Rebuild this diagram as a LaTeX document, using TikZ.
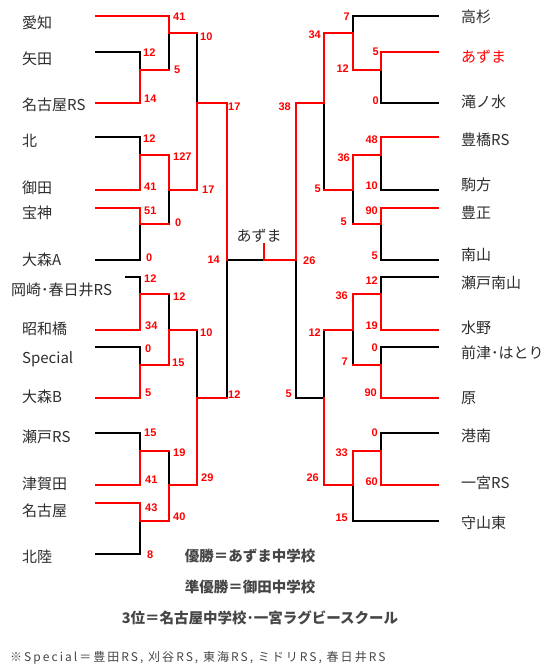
\documentclass[tikz,border=0pt]{standalone}
\usepackage{fontspec}
\setmainfont{Noto Sans CJK JP}
\newfontfamily\scorefont{Liberation Sans}
\definecolor{BracketRed} {RGB}{255,  0,  0}
\definecolor{LabelGray}  {RGB}{ 45, 45, 45}
\definecolor{NoteGray}   {RGB}{ 70, 70, 70}
\tikzset{
  winline/.style={draw=BracketRed, line width=1.8pt, line cap=rect},
  loseline/.style={draw=black, line width=1.8pt, line cap=rect},
  team/.style={text=LabelGray, font=\fontsize{15}{15}\selectfont,
    inner sep=0pt, anchor=west},
  score/.style={text=BracketRed,
    font=\scorefont\bfseries\fontsize{11}{11}\selectfont, inner sep=0pt},
  result/.style={text=NoteGray, font=\bfseries\fontsize{14.5}{14.5}\selectfont,
    inner sep=0pt},
}

\begin{document}
\begin{tikzpicture}[x=1pt,y=-1pt]
      \useasboundingbox (0,0) rectangle (551,670);
      % Left half -- losers first, winners on top
      \draw[loseline] (96,52) -- (140,52) -- (140,70);
      \draw[loseline] (169,33) -- (169,70);
      \draw[loseline] (96,137) -- (140,137) -- (140,155);
      \draw[loseline] (96,260) -- (140,260) -- (140,224);
      \draw[loseline] (169,190) -- (169,224);
      \draw[loseline] (197,33) -- (197,103);
      \draw[loseline] (126,277) -- (140,277) -- (140,294);
      \draw[loseline] (169,294) -- (169,330);
      \draw[loseline] (96,347) -- (140,347) -- (140,365);
      \draw[loseline] (96,433) -- (140,433) -- (140,451);
      \draw[loseline] (96,554) -- (140,554) -- (140,521);
      \draw[loseline] (169,451) -- (169,485);
      \draw[loseline] (197,330) -- (197,398);
      \draw[loseline] (227,398) -- (227,260) -- (264,260);
      \draw[winline] (96,16) -- (169,16) -- (169,33) -- (197,33);
      \draw[winline] (96,103) -- (140,103) -- (140,70) -- (169,70);
      \draw[winline] (96,190) -- (140,190) -- (140,155) -- (169,155)
        -- (169,190) -- (197,190) -- (197,103) -- (227,103) -- (227,260);
      \draw[winline] (96,208) -- (140,208) -- (140,224) -- (169,224);
      \draw[winline] (96,330) -- (140,330) -- (140,294) -- (169,294);
      \draw[winline] (96,398) -- (140,398) -- (140,365) -- (169,365)
        -- (169,330) -- (197,330);
      \draw[winline] (96,485) -- (140,485) -- (140,451) -- (169,451);
      \draw[winline] (96,503) -- (140,503) -- (140,521) -- (169,521)
        -- (169,485) -- (197,485) -- (197,398) -- (227,398);
      % Right half
      \draw[loseline] (438,16) -- (353,16) -- (353,33);
      \draw[loseline] (438,103) -- (381,103) -- (381,70);
      \draw[loseline] (324,103) -- (324,190);
      \draw[loseline] (438,190) -- (381,190) -- (381,155);
      \draw[loseline] (438,260) -- (381,260) -- (381,224);
      \draw[loseline] (353,190) -- (353,224);
      \draw[loseline] (438,277) -- (381,277) -- (381,294);
      \draw[loseline] (353,330) -- (353,365);
      \draw[loseline] (438,347) -- (381,347) -- (381,365);
      \draw[loseline] (324,330) -- (324,398) -- (296,398) -- (296,260);
      \draw[loseline] (438,433) -- (381,433) -- (381,451);
      \draw[loseline] (438,521) -- (353,521) -- (353,485);
      \draw[winline] (438,52) -- (381,52) -- (381,70) -- (353,70)
        -- (353,33) -- (324,33) -- (324,103) -- (296,103) -- (296,260);
      \draw[winline] (438,137) -- (381,137) -- (381,155) -- (353,155)
        -- (353,190) -- (324,190);
      \draw[winline] (438,208) -- (381,208) -- (381,224) -- (353,224);
      \draw[winline] (438,330) -- (381,330) -- (381,294) -- (353,294)
        -- (353,330) -- (324,330);
      \draw[winline] (438,398) -- (381,398) -- (381,365) -- (353,365);
      \draw[winline] (438,485) -- (381,485) -- (381,451) -- (353,451)
        -- (353,485) -- (324,485) -- (324,398);
      % Final
      \draw[winline] (264,244) -- (264,260) -- (296,260);
      \node[team, anchor=center] (champ) at (259,236) {あずま};
      % Teams
      \foreach \x/\y/\name [count=\i] in {22/23/愛知, 22/59/矢田,
          22/105/名古屋RS, 22/141/北, 22/188/御田, 22/213/宝神,
          22/260/大森A, 11/290/岡崎･春日井RS, 22/329/昭和橋,
          22/359/Special, 22/397/大森B, 22/437/瀬戸RS, 22/484/津賀田,
          22/511/名古屋, 22/557/北陸}
        \node[team] (lteam\i) at (\x,\y) {\name};
      \foreach \y/\name [count=\i] in {17/高杉, 57/{\color{BracketRed}あずま},
          102/滝ノ水, 140/豊橋RS, 185/駒方, 213/豊正, 255/南山,
          283/瀬戸南山, 328/水野, 353/前津･はとり, 398/原, 436/港南,
          483/一宮RS, 523/守山東}
        \node[team] (rteam\i) at (461,\y) {\name};
      % Scores
      \foreach \x/\y/\s [count=\i] in {173/17/41, 200/37/10, 143/53/12,
          174/70/5, 144/99/14, 228/107/17, 143/139/12, 173/157/127,
          144/187/41, 202/190/17, 144/211/51, 175/223/0, 146/258/0,
          144/279/12, 173/297/12, 145/326/34, 200/333/10, 145/349/0,
          172/363/15, 145/393/5, 228/395/12, 144/433/15, 173/453/19,
          145/480/41, 201/478/29, 145/508/43, 173/517/40, 147/555/8,
          303/261/26}
        \node[score, anchor=west] (lscore\i) at (\x,\y) {\s};
      \foreach \x/\y/\s [count=\i] in {350/17/7, 321/35/34, 379/52/5,
          349/69/12, 291/107/38, 379/101/0, 378/140/48, 350/158/36,
          378/186/10, 321/189/5, 378/211/90, 347/222/5, 378/256/5,
          378/281/12, 348/296/36, 378/326/19, 321/333/12, 378/348/0,
          348/362/7, 377/393/90, 292/394/5, 378/433/0, 348/453/33,
          319/478/26, 378/482/60, 348/518/15, 220/260/14}
        \node[score, anchor=east] (rscore\i) at (\x,\y) {\s};
      % Results
      \node[result] (first) at (250,556) {優勝＝あずま中学校};
      \node[result] (second) at (250,587) {準優勝＝御田中学校};
      \node[result] (third) at (260,618)
        {3位＝名古屋中学校･一宮ラグビースクール};
      \node[text=NoteGray, font=\fontsize{12}{12}\selectfont
          \addfontfeature{LetterSpace=17}, inner sep=0pt, anchor=west]
        (note) at (10,658)
        {※Special＝豊田RS, 刈谷RS, 東海RS, ミドリRS, 春日井RS};
    \end{tikzpicture}
\end{document}
